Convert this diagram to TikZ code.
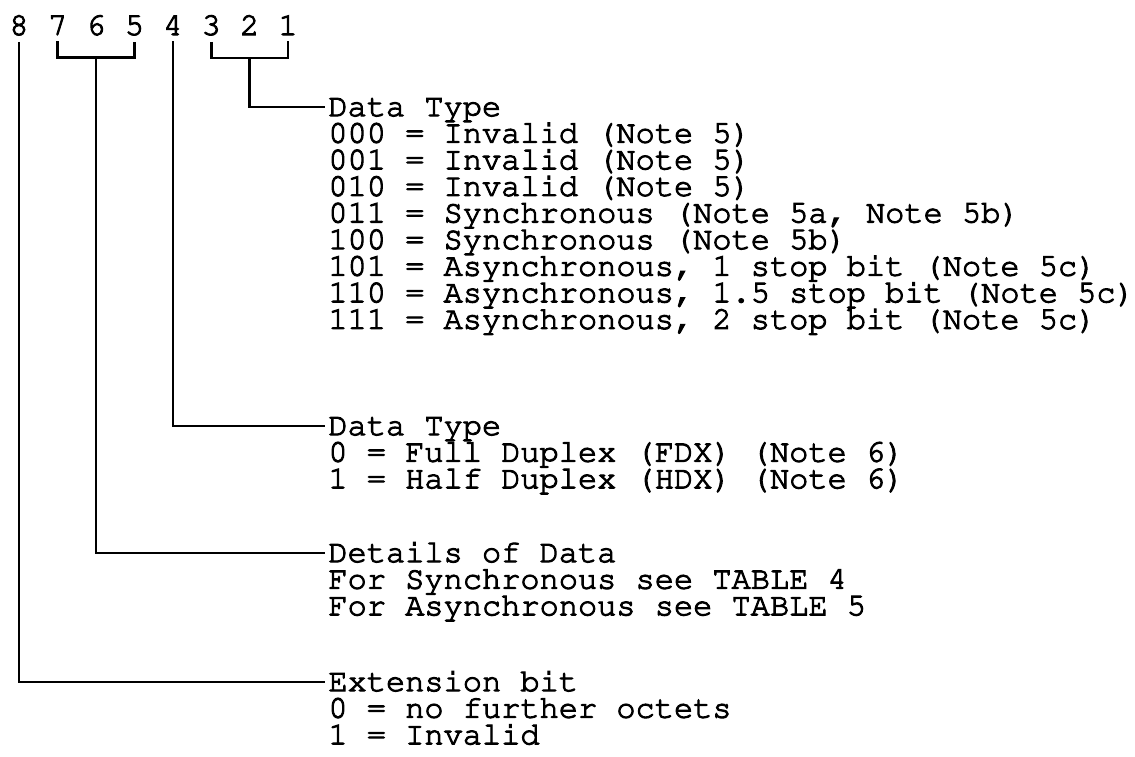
\documentclass[tikz,border=0pt]{standalone}
\usepackage[T1]{fontenc}
\usepackage{tikz}
\usetikzlibrary{positioning, calc}

\newcommand{\cour}{\fontencoding{T1}\fontfamily{pcr}\fontsize{16}{16}\selectfont}
\tikzset{
  heavy/.style={execute at begin node={\special{pdf:literal direct 2 Tr 0.5 w}},
                execute at end node={\special{pdf:literal direct 0 Tr}}},
  bit/.style={anchor=base, inner sep=3pt, font=\cour, heavy},
  txt/.style={anchor=west, inner sep=1.5pt, text height=9.1pt, text depth=0pt, font=\cour, heavy},
  wire/.style={line width=1.3pt}
}

\begin{document}
\begin{tikzpicture}[x=0.5pt, y=-0.5pt]
    \useasboundingbox (0,0) rectangle (1135,756);
    % octet bits
    \node[bit] (b8) at (19,35) {8};
    \node[bit] (b7) at (57.6,35) {7};
    \node[bit] (b6) at (96,35) {6};
    \node[bit] (b5) at (134.4,35) {5};
    \node[bit] (b4) at (172.8,35) {4};
    \node[bit] (b3) at (211.2,35) {3};
    \node[bit] (b2) at (249.6,35) {2};
    \node[bit] (b1) at (288,35) {1};
    % bits 3-1
    \node[txt] (dtype) at (325,107) {Data Type};
    \node[txt] (v000) at (325,133.6) {000 = Invalid (Note 5)};
    \node[txt] (v001) at (325,160.2) {001 = Invalid (Note 5)};
    \node[txt] (v010) at (325,186.8) {010 = Invalid (Note 5)};
    \node[txt] (v011) at (325,213.4) {011 = Synchronous (Note 5a, Note 5b)};
    \node[txt] (v100) at (325,240) {100 = Synchronous (Note 5b)};
    \node[txt] (v101) at (325,266.6) {101 = Asynchronous, 1 stop bit (Note 5c)};
    \node[txt] (v110) at (325,293.2) {110 = Asynchronous, 1.5 stop bit (Note 5c)};
    \node[txt] (v111) at (325,319.8) {111 = Asynchronous, 2 stop bit (Note 5c)};
    % bit 4
    \node[txt] (dup) at (325,426) {Data Type};
    \node[txt] (dup0) at (325,452.6) {0 = Full Duplex (FDX) (Note 6)};
    \node[txt] (dup1) at (325,479.2) {1 = Half Duplex (HDX) (Note 6)};
    % bits 7-5
    \node[txt] (det) at (325,553) {Details of Data};
    \node[txt] (detsy) at (325,579.6) {For Synchronous see TABLE 4};
    \node[txt] (detas) at (325,606.2) {For Asynchronous see TABLE 5};
    % bit 8
    \node[txt] (ext) at (325,682) {Extension bit};
    \node[txt] (ext0) at (325,708.6) {0 = no further octets};
    \node[txt] (ext1) at (325,735.2) {1 = Invalid};
    % leaders
    \draw[wire] (b3.south) -- ++(0,16) coordinate (brkR) -| (b1.south);
    \draw[wire] (b2 |- brkR) |- (dtype.west);
    \draw[wire] (b4.south) |- (dup.west);
    \draw[wire] (b7.south) -- ++(0,16) coordinate (brkL) -| (b5.south);
    \draw[wire] (b6 |- brkL) |- (det.west);
    \draw[wire] (b8.south) |- (ext.west);
\end{tikzpicture}
\end{document}
